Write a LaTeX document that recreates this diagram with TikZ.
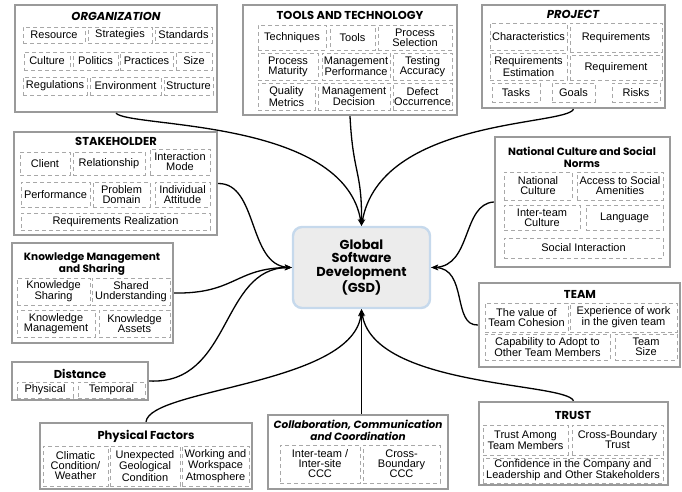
\documentclass[tikz,border=0pt]{standalone}
\usepackage{fontspec}
\setmainfont{Liberation Sans}
\newfontfamily\headfont{Poppins}
\usetikzlibrary{fit,arrows.meta}

\definecolor{boxgray}{HTML}{9A9A9A}
\definecolor{cellgray}{HTML}{A8A8A8}
\definecolor{gsdblue}{HTML}{C6D9EC}
\definecolor{gsdfill}{HTML}{ECECEC}

\tikzset{
  group/.style={draw=boxgray, line width=2.4pt, fill=white, inner sep=0pt},
  cell/.style={draw=cellgray, line width=0.8pt, dash pattern=on 4pt off 3pt,
    inner sep=0pt, align=center, font=\fontsize{11}{10}\selectfont},
  head/.style={align=center, font=\headfont\bfseries\fontsize{11.5}{12}\selectfont},
  smallhead/.style={head, font=\headfont\bfseries\fontsize{10.5}{12}\selectfont},
  link/.style={line width=1.3pt, -{Stealth[length=7pt,width=5.5pt]}},
}

\begin{document}
\begin{tikzpicture}[x=1pt,y=-1pt]
  \useasboundingbox (0,0) rectangle (682,491);

  % outer groups
  \node[group, fit={(15,5) (217,112)}] (org) {};
  \node[group, fit={(243,5) (457,115)}] (tools) {};
  \node[group, fit={(482,5) (665,108)}] (proj) {};
  \node[group, fit={(14,132) (217,235)}] (stake) {};
  \node[group, fit={(495,137) (670,267)}] (natl) {};
  \node[group, fit={(12,243) (173,343)}] (know) {};
  \node[group, fit={(12,362) (148,400)}] (dist) {};
  \node[group, fit={(479,283) (680,367)}] (team) {};
  \node[group, fit={(40,423) (252,489)}] (phys) {};
  \node[group, fit={(268,415) (448,489)}] (collab) {};
  \node[group, fit={(479,402) (668,485)}] (trust) {};

  % titles
  \node[head] (orgT) at (116,16) {\itshape ORGANIZATION};
  \node[head] (toolsT) at (350,15) {TOOLS AND TECHNOLOGY};
  \node[head] (projT) at (573,14) {\itshape PROJECT};
  \node[head] (stakeT) at (116,141) {STAKEHOLDER};
  \node[smallhead] (natlT) at (582,157) {National Culture and Social\\Norms};
  \node[smallhead] (knowT) at (92,264) {Knowledge Management\\and Sharing};
  \node[head] (distT) at (80,374) {Distance};
  \node[head] (teamT) at (580,294) {TEAM};
  \node[head] (physT) at (146,436) {Physical Factors};
  \node[smallhead] (collabT) at (358,430) {\itshape Collaboration, Communication\\\itshape and Coordination};
  \node[head] (trustT) at (573,415) {TRUST};

  % cells
  \foreach \n/\xa/\ya/\xb/\yb/\t in {
      o1/23/27/85/43/Resource, o2/88/27/152/43/Strategies, o3/155/27/212/43/Standards,
      o4/24/52/70/70/Culture, o5/73/52/118/70/Politics, o6/120/52/173/70/Practices,
      o7/176/52/212/70/Size, o8/23/77/87/95/Regulations, o9/90/77/161/95/Environment,
      o10/164/77/213/95/Structure,
      t1/258/25/326/50/Techniques, t2/330/25/375/50/Tools,
      t3/378/25/452/50/{Process\\Selection},
      t4/258/53/318/80/{Process\\Maturity}, t5/322/53/390/80/{Management\\Performance},
      t6/393/53/452/80/{Testing\\Accuracy},
      t7/258/83/315/110/{Quality\\Metrics}, t8/318/83/390/110/{Management\\Decision},
      t9/393/83/452/110/{Defect\\Occurrence},
      p1/490/23/567/50/Characteristics, p2/570/23/662/52/Requirements,
      p3/490/53/567/80/{Requirements\\Estimation}, p4/570/55/662/80/Requirement,
      p5/492/83/540/102/Tasks, p6/552/83/595/102/Goals, p7/612/83/660/102/Risks,
      s1/20/152/70/175/Client, s2/73/152/145/175/Relationship,
      s3/150/149/210/175/{Interaction\\Mode},
      s4/21/182/90/207/Performance, s5/93/182/150/207/{Problem\\Domain},
      s6/155/182/210/207/{Individual\\Attitude},
      s7/21/213/210/230/Requirements Realization,
      n1/504/172/572/200/{National\\Culture}, n2/577/172/663/200/{Access to Social\\Amenities},
      n3/504/205/580/230/{Inter-team\\Culture}, n4/586/205/663/230/Language,
      n5/504/238/663/258/Social Interaction,
      k1/17/278/90/305/{Knowledge\\Sharing}, k2/92/278/170/305/{Shared\\Understanding},
      k3/17/310/95/337/{Knowledge\\Management}, k4/99/310/170/337/{Knowledge\\Assets},
      d1/17/382/73/398/Physical, d2/78/382/145/398/Temporal,
      m1/485/303/568/332/{The value of\\Team Cohesion},
      m2/570/303/677/332/{Experience of work\\in the given team},
      m3/485/334/610/360/{Capability to Adopt to\\Other Team Members},
      m4/615/334/677/360/{Team\\Size},
      f1/43/446/108/486/{Climatic\\Condition/\\Weather},
      f2/110/446/180/486/{Unexpected\\Geological\\Condition},
      f3/182/446/249/486/{Working and\\Workspace\\Atmosphere},
      c1/280/445/360/483/{Inter-team /\\Inter-site\\CCC},
      c2/363/445/440/483/{Cross-\\Boundary\\CCC},
      r1/483/425/568/455/{Trust Among\\Team Members},
      r2/572/425/663/455/{Cross-Boundary\\Trust},
      r3/483/458/663/483/{Confidence in the Company and\\Leadership and Other Stakeholders}}
    \node[cell, minimum width={(\xb-\xa)*1pt}, minimum height={(\yb-\ya)*1pt}]
      (\n) at ({(\xa+\xb)/2},{(\ya+\yb)/2}) {\t};

  % centre
  \node[draw=gsdblue, line width=2.4pt, fill=gsdfill, rounded corners=9pt,
    minimum width=137pt, minimum height=81pt, align=center,
    font=\headfont\bfseries\fontsize{13}{13.5}\selectfont] (gsd) at (361.5,267.5)
    {Global\\Software\\Development\\(GSD)};

  % connectors
  \draw[link] (org.south) .. controls (130,128) and (345,118) .. (gsd.north);
  \draw[link] (tools.south) .. controls (353,175) and (362,170) .. (gsd.north);
  \draw[link] (proj.south) .. controls (566,126) and (380,118) .. (gsd.north);
  \draw[link] (stake.east) .. controls (258,183) and (248,265) .. (gsd.west);
  \draw[link] (know.east) .. controls (235,294) and (235,268) .. (gsd.west);
  \draw[link] (dist.east) .. controls (232,385) and (220,268) .. (gsd.west);
  \draw[link] (phys.north) .. controls (150,388) and (355,385) .. (gsd.south);
  \draw[link] (collab.north -| gsd.south) -- (gsd.south);
  \draw[link] (trust.north) .. controls (566,382) and (372,388) .. (gsd.south);
  \draw[link] (natl.west) .. controls (462,204) and (472,266) .. (gsd.east);
  \draw[link] (team.west) .. controls (452,326) and (468,268) .. (gsd.east);
\end{tikzpicture}
\end{document}
